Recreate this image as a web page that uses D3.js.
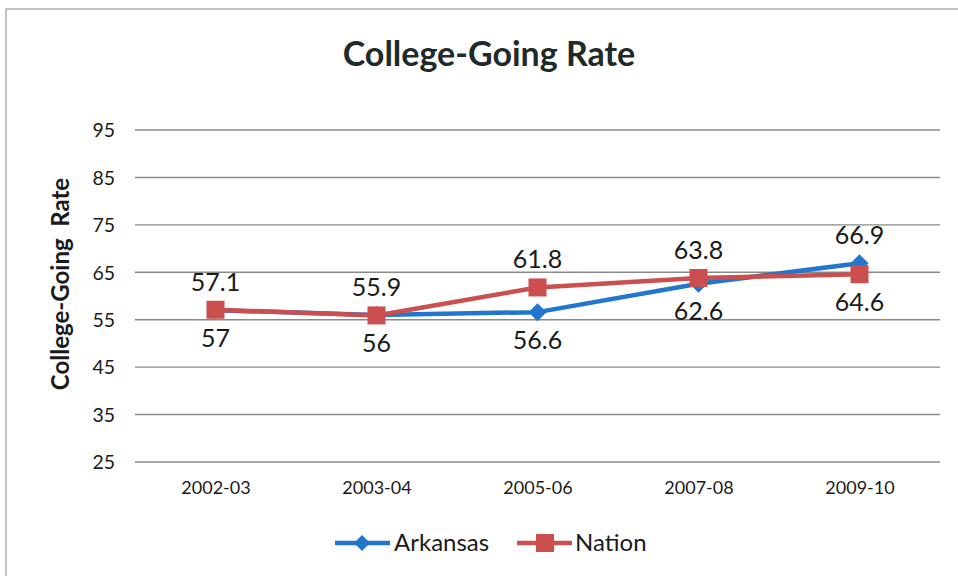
<!DOCTYPE html>
<html><head><meta charset="utf-8">
<script src="https://cdn.jsdelivr.net/npm/d3@7"></script>
<style>
html,body{margin:0;padding:0;background:#fff;}
svg{display:block;font-family:Lato,"Open Sans",sans-serif;}
</style></head>
<body>
<svg id="chart" width="958" height="576"></svg>
<script>
const categories = ["2002-03","2003-04","2005-06","2007-08","2009-10"];
const arkansas = [57, 56, 56.6, 62.6, 66.9];
const nation = [57.1, 55.9, 61.8, 63.8, 64.6];
const yTicks = [25,35,45,55,65,75,85,95];
const titleText = "College-Going Rate";
const yTitle = "College-Going  Rate";
const seriesNames = ["Arkansas","Nation"];

const svg = d3.select("#chart");
const plot = {left:135, right:940, top:130, bottom:462};
const blue = "#2277cc", red = "#cc4f4f", grid = "#8a8a8a", ink = "#1a1a1a";

// frame
svg.append("rect").attr("x",6).attr("y",9).attr("width",980).attr("height",600)
  .attr("fill","none").attr("stroke","#9a9a9a").attr("stroke-width",1.2);

const x = d3.scalePoint().domain(categories).range([plot.left, plot.right]).padding(0.5);
const y = d3.scaleLinear().domain([25,95]).range([plot.bottom, plot.top]);

// gridlines
svg.append("g").selectAll("line").data(yTicks).join("line")
  .attr("x1",plot.left).attr("x2",plot.right)
  .attr("y1",d=>y(d)).attr("y2",d=>y(d))
  .attr("stroke",grid).attr("stroke-width",1.4);

// y axis labels
const yAxis = d3.axisLeft(y).tickValues(yTicks).tickSize(0).tickPadding(0);
const gy = svg.append("g").attr("transform",`translate(${plot.left-20},0)`).call(yAxis);
gy.select(".domain").remove();
gy.selectAll("text").attr("font-size",19.5).attr("fill",ink).attr("font-family","Lato").attr("dy","0.35em");

// x axis labels
const xAxis = d3.axisBottom(x).tickSize(0).tickPadding(0);
const gx = svg.append("g").attr("transform",`translate(0,${plot.bottom+19})`).call(xAxis);
gx.select(".domain").remove();
gx.selectAll("text").attr("font-size",18).attr("fill",ink).attr("font-family","Lato").attr("dy","0.71em");

// title
svg.append("text").attr("x",489).attr("y",66).attr("text-anchor","middle")
  .attr("font-size",34).attr("font-weight","bold").attr("fill","#1f2a2a").text(titleText);

// y title
svg.append("text").attr("transform",`translate(69,284) rotate(-90)`).attr("text-anchor","middle")
  .attr("font-size",24).attr("font-weight","bold").attr("fill",ink).style("white-space","pre").text(yTitle);

const line = d3.line().x((d,i)=>x(categories[i])).y(d=>y(d));

function diamond(g, cx, cy, r, color){
  g.append("path").attr("d",`M${cx},${cy-r}L${cx+r},${cy}L${cx},${cy+r}L${cx-r},${cy}Z`).attr("fill",color);
}
function square(g, cx, cy, s, color){
  g.append("rect").attr("x",cx-s/2).attr("y",cy-s/2).attr("width",s).attr("height",s).attr("fill",color);
}

// Arkansas
svg.append("path").datum(arkansas).attr("d",line).attr("fill","none").attr("stroke",blue).attr("stroke-width",4.5).attr("stroke-linejoin","round");
const ga = svg.append("g");
arkansas.forEach((v,i)=>diamond(ga, x(categories[i]), y(v), 9, blue));

// Nation
svg.append("path").datum(nation).attr("d",line).attr("fill","none").attr("stroke",red).attr("stroke-width",4.5).attr("stroke-linejoin","round");
const gn = svg.append("g");
nation.forEach((v,i)=>square(gn, x(categories[i]), y(v), 18, red));

// data labels: higher series above (Arkansas only above if clearly higher)
const gl = svg.append("g").attr("font-size",25).attr("fill",ink).attr("text-anchor","middle");
categories.forEach((c,i)=>{
  const arkAbove = arkansas[i] - nation[i] > 1;
  const a = arkansas[i], n = nation[i];
  gl.append("text").attr("x",x(c)).attr("y", arkAbove ? y(a)-28 : y(a)+28).attr("dy","0.35em").text(a);
  gl.append("text").attr("x",x(c)).attr("y", arkAbove ? y(n)+28 : y(n)-28).attr("dy","0.35em").text(n);
});

// legend
const lg = svg.append("g");
const ly = 543;
lg.append("line").attr("x1",335).attr("x2",390).attr("y1",ly).attr("y2",ly).attr("stroke",blue).attr("stroke-width",4.5);
diamond(lg, 362, ly, 8, blue);
lg.append("text").attr("x",394).attr("y",ly).attr("dy","0.35em").attr("font-size",24).attr("fill",ink).text(seriesNames[0]);
lg.append("line").attr("x1",517).attr("x2",572).attr("y1",ly).attr("y2",ly).attr("stroke",red).attr("stroke-width",4.5);
square(lg, 545, ly, 18, red);
lg.append("text").attr("x",575).attr("y",ly).attr("dy","0.35em").attr("font-size",24).attr("fill",ink).text(seriesNames[1]);
</script>
</body></html>
